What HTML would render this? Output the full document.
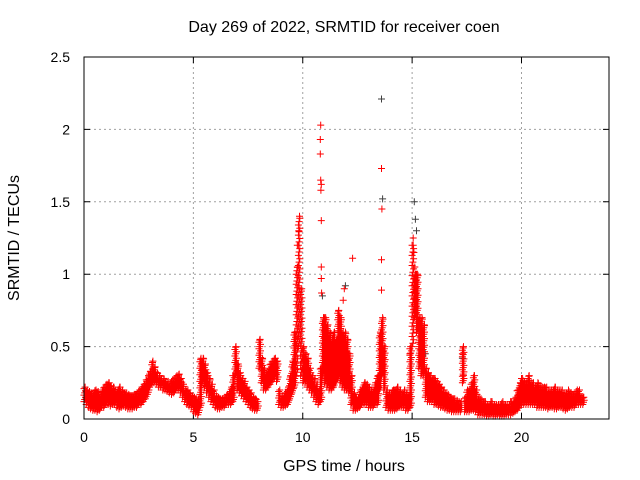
<!DOCTYPE html>
<html><head><meta charset="utf-8"><style>
html,body{margin:0;padding:0;background:#fff;}
svg{display:block;font-family:"Liberation Sans",sans-serif;}
</style></head><body>
<svg id="chart" width="640" height="480" viewBox="0 0 640 480">
<text x="344" y="32" font-size="16" text-anchor="middle">Day 269 of 2022, SRMTID for receiver coen</text>
<text x="344" y="471" font-size="16" text-anchor="middle">GPS time / hours</text>
<text x="19" y="238" font-size="16" text-anchor="middle" transform="rotate(-90 19 238)">SRMTID / TECUs</text>
<g id="grid"></g>
<g id="ticks"></g>
<g id="marks"></g>
<rect x="84" y="57" width="525" height="362" fill="none" stroke="#000" stroke-width="1"/>
</svg>
<script>
const xTicks=[0,5,10,15,20];
const yTicks=[0,0.5,1,1.5,2,2.5];
const yTickLabels=["0","0.5","1","1.5","2","2.5"];
const binStart=0, binWidth=0.1;
const binLo=[
.12,.1,.08,.07,.06,.06,.05,.06,.08,.08,
.1,.1,.09,.1,.1,.08,.07,.08,.09,.08,
.07,.07,.07,.08,.08,.1,.1,.12,.14,.17,
.22,.24,.25,.24,.22,.22,.2,.2,.19,.18,
.17,.18,.2,.2,.18,.15,.12,.1,.09,.08,
.05,.04,.03,.08,.25,.22,.18,.15,.12,.1,
.08,.07,.07,.08,.08,.1,.1,.1,.12,.3,
.2,.18,.16,.14,.12,.1,.08,.07,.06,.06,
.35,.25,.2,.2,.22,.24,.26,.28,.26,.1,
.08,.08,.09,.1,.14,.18,.22,.3,.5,.3,
.25,.25,.22,.2,.18,.15,.12,.1,.12,.3,
.25,.22,.2,.2,.22,.25,.28,.25,.22,.2,
.2,.18,.1,.06,.06,.07,.08,.1,.1,.1,
.08,.08,.08,.1,.1,.2,.3,.2,.08,.06,
.06,.06,.06,.07,.08,.08,.08,.06,.06,.08,
.5,.7,.6,.35,.3,.3,.15,.12,.12,.12,
.1,.1,.09,.08,.08,.07,.06,.06,.05,.05,
.05,.05,.05,.25,.05,.05,.05,.06,.06,.05,
.03,.03,.03,.03,.02,.02,.03,.02,.02,.03,
.02,.02,.02,.03,.03,.03,.04,.05,.06,.08,
.1,.1,.1,.1,.1,.1,.1,.08,.08,.08,
.08,.08,.07,.08,.08,.07,.07,.08,.08,.07,
.06,.07,.08,.08,.08,.1,.1,.1,.1];
const binHi=[
.22,.2,.19,.18,.18,.2,.19,.17,.2,.22,
.24,.25,.23,.22,.2,.2,.22,.2,.18,.18,
.17,.16,.16,.17,.18,.2,.22,.24,.27,.3,
.33,.4,.36,.32,.3,.28,.28,.26,.26,.25,
.27,.28,.3,.31,.28,.24,.2,.2,.18,.16,
.15,.14,.14,.42,.42,.38,.32,.28,.24,.2,
.16,.15,.14,.14,.15,.17,.18,.22,.3,.5,
.38,.32,.28,.26,.22,.2,.18,.15,.14,.12,
.55,.42,.35,.32,.34,.38,.4,.42,.4,.2,
.16,.16,.18,.22,.3,.4,.6,1.05,1.4,.9,
.5,.45,.42,.35,.3,.28,.24,.2,.35,.7,
.7,.65,.6,.55,.6,.55,.75,.7,.6,.6,
.55,.45,.3,.18,.15,.15,.2,.22,.25,.24,
.22,.2,.2,.25,.3,.6,.7,.5,.2,.18,
.18,.2,.2,.22,.2,.18,.2,.18,.16,.5,
1.2,1.0,1.0,.7,.7,.65,.35,.32,.3,.28,
.28,.26,.24,.22,.2,.18,.17,.15,.14,.14,
.13,.12,.12,.5,.15,.2,.2,.25,.3,.2,
.15,.14,.12,.12,.1,.1,.12,.1,.1,.1,
.1,.12,.1,.1,.1,.12,.12,.15,.2,.25,
.28,.26,.25,.3,.25,.25,.22,.25,.22,.22,
.22,.22,.2,.2,.2,.22,.2,.2,.2,.18,
.18,.2,.18,.17,.17,.2,.2,.15,.15];
const redTimes=[10.82,10.8,10.8,10.82,10.85,10.83,10.85,10.85,10.85,10.86,11.9,11.85,12.28,13.6,13.62,13.6,13.6,15.05,15.08,15.2,15.12,9.75,9.82,17.3,17.35,14.9];
const redValues=[2.03,1.93,1.83,1.65,1.62,1.58,1.37,1.05,0.97,0.87,0.9,0.82,1.11,1.73,1.45,1.1,0.89,1.25,1.15,1.0,1.05,1.2,1.3,0.45,0.3,0.45];
const blackTimes=[13.6,13.65,15.1,15.15,10.9,11.95,15.2,17.3,15.6,20.0];
const blackValues=[2.21,1.52,1.5,1.38,0.85,0.92,1.3,0.42,0.45,0.28];

const X0=84,X1=609,Y0=419,Y1=57,XMAX=24,YMAX=2.5;
const xs=t=>X0+(X1-X0)*t/XMAX;
const ys=v=>Y0-(Y0-Y1)*v/YMAX;
const NS="http://www.w3.org/2000/svg";
const grid=document.getElementById('grid'),ticks=document.getElementById('ticks'),marks=document.getElementById('marks');
function mk(tag,attrs,parent){const e=document.createElementNS(NS,tag);for(const k in attrs)e.setAttribute(k,attrs[k]);parent.appendChild(e);return e;}
xTicks.forEach(t=>{
  const x=xs(t);
  if(t>0){const g=mk('line',{x1:x,x2:x,y1:Y0,y2:Y1,stroke:'#a0a0a0','stroke-dasharray':'2,3'},grid);
  
  }
  const tk=mk('path',{d:`M${x},${Y0}v-6M${x},${Y1}v6`,stroke:'#000'},ticks);
  
  
  const l=mk('text',{x:x,y:Y0+23,'font-size':14,'text-anchor':'middle'},ticks);l.textContent=String(t);
  
  
});
yTicks.forEach((v,i)=>{
  const y=ys(v);
  if(v>0&&v<YMAX){const g=mk('line',{x1:X0,x2:X1,y1:y,y2:y,stroke:'#a0a0a0','stroke-dasharray':'2,3'},grid);
  
  }
  const tk=mk('path',{d:`M${X0},${y}h6M${X1},${y}h-6`,stroke:'#000'},ticks);
  
  
  const l=mk('text',{x:X0-14,y:y+5,'font-size':14,'text-anchor':'end'},ticks);l.textContent=yTickLabels[i];
  
  
});
function plus(t,v){const x=xs(t),y=ys(v);return `M${(x-3.5).toFixed(1)},${y.toFixed(1)}h7M${x.toFixed(1)},${(y-3.5).toFixed(1)}v7`;}
let d='';
for(let i=0;i<binLo.length;i++){
  const t=binStart+i*binWidth;
  const span=binHi[i]-binLo[i];
  const step=span>0.5?0.07:0.045;
  for(let s=0;s<3;s++){
    const tt=t+s*binWidth/3;
    for(let v=binLo[i]+s*step/3;v<=binHi[i]+1e-9;v+=step) d+=plus(tt,v);
  }
  d+=plus(t+binWidth/2,binHi[i]);
}
let db='';
for(let i=0;i<blackTimes.length;i++) db+=plus(blackTimes[i],blackValues[i]);
let dr='';
for(let i=0;i<redTimes.length;i++) dr+=plus(redTimes[i],redValues[i]);
const pb=mk('path',{d:db,stroke:'#404040','stroke-width':1,fill:'none'},marks);


const pr=mk('path',{d:d+dr,stroke:'#ff0000','stroke-width':1,fill:'none'},marks);


</script>
</body></html>
